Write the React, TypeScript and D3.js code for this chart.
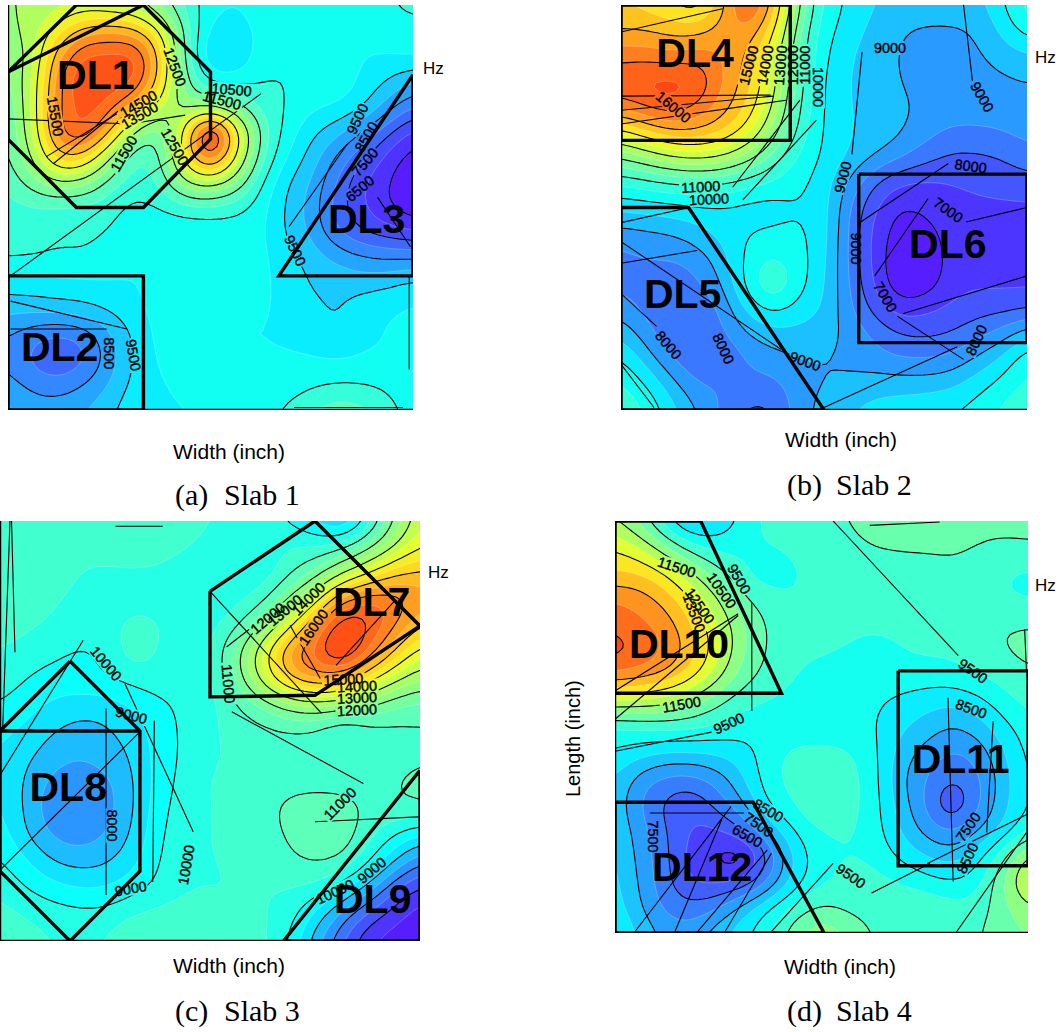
import * as d3 from "d3";

// Frequency fields, in hundreds of Hz, 17 x 17 samples per slab
const slab1Grid = [
  [125,125,128,130,128,126,118,108,102,100,103,105,101,100,101,105,106],
  [123,128,138,148,150,148,136,113,98,96,102,105,103,101,101,103,104],
  [118,128,150,162,162,164,146,112,93,94,103,105,105,103,100,100,101],
  [118,130,155,167,163,164,143,116,102,102,105,105,104,104,99,95,90],
  [115,131,156,163,159,148,131,120,122,116,108,105,101,100,97,88,80],
  [114,130,157,163,148,122,113,138,178,140,113,103,96,92,85,76,68],
  [113,126,146,145,125,108,112,140,162,136,111,100,93,84,76,68,62],
  [111,118,125,122,112,107,110,125,129,121,105,95,90,79,70,65,60],
  [108,109,108,108,107,103,105,108,108,106,102,94,88,77,70,65,61],
  [107,108,106,106,105,101,100,100,101,102,102,94,89,80,75,72,70],
  [106,105,104,105,102,100,100,100,100,100,102,97,93,89,86,85,85],
  [97,98,99,99,100,100,101,100,100,100,101,99,94,94,93,94,97],
  [92,92,93,94,96,99,102,103,100,100,100,100,96,94,98,100,101],
  [85,81,79,81,89,96,102,104,100,100,100,100,99,94,100,100,101],
  [84,78,74,78,87,96,101,102,100,100,100,100,100,100,100,100,101],
  [87,83,82,85,90,97,100,100,100,100,101,102,104,105,105,104,101],
  [92,88,88,90,94,99,100,100,100,100,103,106,110,114,112,107,103],
];

const slab2Grid = [
  [145,143,140,135,148,165,150,120,103,99,95,93,93,93,93,99,108],
  [150,150,148,148,153,155,143,115,101,98,93,90,89,89,90,96,103],
  [158,158,156,158,155,150,135,113,100,96,91,90,88,88,89,92,94],
  [165,167,168,166,155,148,133,112,99,95,92,90,88,88,88,89,90],
  [158,162,165,160,153,145,130,110,99,95,93,91,89,88,88,88,88],
  [138,145,150,150,146,138,123,108,99,95,94,91,87,84,84,85,87],
  [120,125,130,132,130,123,113,104,99,95,90,86,82,79,79,80,83],
  [106,108,110,111,110,107,104,101,98,89,80,75,74,75,76,77,78],
  [96,97,98,99,99,97,97,100,98,85,75,69,71,73,74,74,74],
  [88,89,90,93,97,100,101,101,98,84,73,67,68,72,72,72,72],
  [83,85,85,87,93,102,106,102,97,84,73,65,66,72,73,72,72],
  [83,83,81,84,90,103,112,102,96,85,74,65,66,73,74,74,74],
  [88,83,81,80,86,97,102,98,95,86,78,72,74,76,78,78,79],
  [94,87,80,79,84,90,93,93,92,89,84,80,79,80,83,87,94],
  [101,93,85,80,80,85,88,90,90,89,87,85,85,86,91,96,105],
  [106,100,92,85,85,84,83,88,90,91,93,93,93,94,98,102,106],
  [110,105,97,90,84,78,79,88,92,95,97,98,99,100,102,106,110],
];

const slab3Grid = [
  [110,109,107,107,107,110,110,107,105,104,103,99,94,86,100,120,135],
  [110,110,108,106,107,108,107,105,104,102,101,106,105,108,117,130,140],
  [109,109,108,105,104,104,104,103,103,102,101,108,115,128,140,150,152],
  [108,108,106,103,102,103,103,102,102,103,107,120,135,162,167,165,158],
  [107,106,104,102,103,107,106,102,103,108,120,137,160,178,172,162,150],
  [105,103,101,99,100,109,105,101,104,118,137,160,168,182,166,150,136],
  [103,100,98,99,100,102,103,101,103,116,134,152,160,156,144,132,125],
  [100,97,94,92,92,95,99,101,103,109,115,122,125,123,120,115,113],
  [96,94,90,88,89,92,97,101,104,107,108,109,109,102,107,108,109],
  [95,91,87,85,87,90,97,101,104,106,107,107,105,105,107,108,109],
  [95,89,83,81,83,89,97,102,105,108,108,108,108,108,108,110,112],
  [96,89,81,78,82,89,98,103,105,106,108,112,114,113,109,109,110],
  [98,90,84,82,85,90,99,104,105,106,107,111,113,114,107,100,94],
  [101,96,90,88,89,93,100,104,105,105,106,109,111,110,102,90,80],
  [104,100,97,95,95,98,101,105,105,105,105,105,104,98,88,75,68],
  [107,105,103,102,102,105,107,107,105,105,106,103,94,83,73,67,62],
  [108,107,105,104,105,110,110,107,105,105,107,100,87,75,65,62,60],
];

const slab4Grid = [
  [115,108,95,86,90,97,102,103,103,105,108,111,110,107,107,108,108],
  [125,120,110,101,98,99,100,101,102,103,105,105,105,105,105,103,104],
  [130,130,125,115,106,100,96,100,101,102,102,103,104,105,104,100,99],
  [140,138,133,125,115,105,102,100,101,102,102,102,102,102,103,100,99],
  [144,141,138,130,120,110,104,101,101,101,101,101,101,102,104,105,105],
  [148,145,140,133,122,110,104,101,101,100,98,100,101,101,103,105,107],
  [140,138,135,128,117,107,103,100,98,97,97,98,98,98,100,102,104],
  [120,119,117,112,106,101,100,98,97,96,96,94,92,91,93,98,102],
  [98,100,101,101,99,97,96,96,96,96,96,91,88,84,87,93,98],
  [95,92,90,90,91,93,98,102,102,101,97,88,83,79,81,89,97],
  [90,82,78,78,82,90,99,102,106,102,98,86,80,75,78,87,96],
  [89,79,73,70,77,85,97,100,107,102,98,88,80,67,78,88,96],
  [90,82,75,69,69,75,88,96,100,101,98,90,83,79,84,90,99],
  [91,83,76,67,63,59,75,92,98,100,99,94,90,87,92,103,118],
  [92,84,76,69,68,70,80,93,99,102,102,100,97,95,97,110,124],
  [93,85,78,76,80,88,96,102,106,103,103,104,105,102,102,108,114],
  [96,89,83,83,88,94,100,109,115,110,104,104,105,104,104,108,110],
];

// Band colours, from the low end of the scale to the high end
const paletteStops = [0, 0.1, 0.2, 0.28, 0.34, 0.4, 0.46, 0.52, 0.58, 0.66, 0.72, 0.78, 0.84, 0.9, 1];
const paletteColors = ["#5b12ff","#4a3cff","#3a78ff","#22a8ff","#16d4ff","#00ffff","#2dffdf","#5bffbd","#80ff90","#b4ff5a","#eaff2a","#ffe020","#ffb420","#ff8420","#ff4414"];

type Label = [string, number, number, number];
type Seg = number[][];

const slab1Labels: Label[] = [
  ["12500",6.6,2.45,70],["10500",8.84,3.34,5],["11500",8.45,3.76,15],["15500",1.87,4.4,80],
  ["14500",5.16,3.9,-30],["13500",5.2,4.36,-30],["12500",6.6,5.6,60],["11500",4.57,5.87,-60],
  ["9500",13.8,4.5,-65],["8500",14.15,5.2,-60],["7500",14.1,6.2,-50],["6500",13.9,7.25,-40],
  ["9500",11.35,9.7,65],["8500",3.98,13.76,90],["9500",4.96,13.83,80],
];
const slab2Labels: Label[] = [
  ["9000",10.6,1.7,0],["9000",14.24,3.63,60],["10000",7.76,3.24,90],["15000",5.03,2.38,-75],
  ["14000",5.68,2.38,-80],["13000",6.28,2.38,-85],["12000",6.78,2.38,-90],["11000",7.26,2.38,-90],
  ["16000",2.07,4.03,40],["11000",3.14,7.18,-3],["10000",3.47,7.67,-3],["9000",8.74,6.8,-75],
  ["8000",13.78,6.36,8],["7000",12.9,8.1,35],["9000",9.28,9.62,90],["7000",10.42,11.53,60],
  ["8000",14,13.24,-65],["8000",1.87,13.43,50],["8000",4.04,13.57,65],["9000",7.26,14.07,20],
];
const slab3Labels: Label[] = [
  ["10000",4.04,5.43,50],["9000",5,7.4,15],["9000",4.98,14,-10],["8000",4.28,11.6,90],
  ["10000",7.09,13.1,-80],["11000",8.7,6.2,85],["12000",10.2,3.7,-40],["13000",10.86,3.4,-40],
  ["14000",11.75,2.96,-45],["16000",11.94,4.04,-55],["15000",13.08,6.03,-3],["14000",13.6,6.3,-3],
  ["13000",13.6,6.73,-3],["12000",13.6,7.2,-3],["11000",12.95,10.76,-45],["10000",12.76,14.12,-25],
  ["9000",14.16,13.3,-40],
];
const slab4Labels: Label[] = [
  ["11500",2.39,1.79,18],["10500",4.13,2.7,55],["9500",4.81,2.25,60],["12500",3.29,3.29,55],
  ["13500",3.07,3.57,70],["11500",2.58,7.12,-10],["9500",4.41,7.86,-25],["7500",1.48,12.25,90],
  ["8500",5.94,11.23,30],["7500",5.57,11.79,35],["6500",5.13,12.22,30],["9500",9.14,13.78,35],
  ["9500",13.87,5.82,35],["8500",13.8,7.29,20],["7500",13.68,11.88,-55],["8500",13.65,13.09,-65],
];

// Straight runs of the contour plot, in grid units
const slab1Strays: Seg[] = [
  [[0,4.5],[4.8,4.7],[7,4.35]],[[1.8,6.26],[4.4,4.15]],[[1.5,6],[4.3,4.3]],[[0.1,10.7],[10,3.5]],
  [[11.1,8.76],[13.4,5.5]],[[14.6,7.6],[15.9,9.55]],[[0.1,11.7],[4.7,12.8]],[[0.1,12.8],[3.9,12.8]],
  [[11.3,15.9],[15.6,15.9]],[[15.85,10.7],[15.85,14.4]],
];
const slab2Strays: Seg[] = [
  [[9.5,1.86],[9.1,5.9]],[[0,1.07],[4,0.15]],[[0,3.6],[5.9,3.56]],[[0,4.16],[6,3.6]],[[0,4.7],[6.5,3.76]],
  [[4.4,7.2],[7.05,3.76]],[[4.8,7.7],[7.7,4.55]],[[0,9.35],[6.3,13.6]],[[0,10.2],[3,9.7]],[[0,8.6],[2.7,8]],
  [[9.4,8.6],[12.9,6.26]],[[10,10.7],[12.1,7.65]],[[8,15.9],[13.25,13.5]],[[11.1,12.2],[16,10.7]],
  [[10.9,12.3],[13.5,14]],[[13.6,8.57],[16,8]],[[13.5,0],[13.85,3]],[[0,11.4],[1.4,12.7]],[[0,14.2],[1.3,15.9]],
];
const slab3Strays: Seg[] = [
  [[8,2.68],[12.25,7.33]],[[4.76,6.2],[7.36,11.84]],[[4.04,7.14],[4.04,14.25]],[[5.88,7.6],[5.82,13.75]],
  [[0,13.3],[5.33,8.03]],[[8.83,7.27],[13.84,10]],[[12,11.46],[15.94,11.27]],[[0.38,0],[0.1,8]],
  [[0.44,0],[0.57,5]],[[0,9.68],[3.17,4.54]],[[8.63,4.8],[11,2.95]],[[11.05,3.97],[12.2,6]],
  [[12.8,5.5],[15,3.08]],[[4.4,0.2],[6.2,0.2]],
];
const slab4Strays: Seg[] = [
  [[8.45,0],[13.3,5.23]],[[12.9,6.86],[13.1,14]],[[14.65,7.77],[14.4,12.1]],[[12.1,13.3],[15.95,11.4]],
  [[9.94,14.45],[12.2,13.3]],[[5.3,3.16],[5.3,7.38]],[[0,6.6],[4.77,3.6]],[[0,7.7],[4.77,3.67]],
  [[0,8.94],[3.74,8.2]],[[1.35,11.34],[5,11.34]],[[0.77,15.95],[4.5,11.08]],[[2.32,15.95],[4.13,11.6]],
  [[3.2,15.95],[5.9,12.77]],[[4.26,15.95],[6.06,12.9]],[[6.06,15.95],[8.45,13.3]],[[15.87,4.2],[15.94,5.8]],
  [[9.87,0.17],[12.58,0.04]],[[13.2,16],[15.94,12.1]],
];

// Delamination outlines, in grid units
const slab1Regions: Seg[] = [
  [[2.7,0],[5.35,0],[8,2.65],[8,5.3],[5.35,8],[2.7,8],[0,5.3],[0,2.65],[2.7,0]],
  [[0,2.65],[5.35,0]],
  [[0,10.7],[5.35,10.7],[5.35,16],[0,16],[0,10.7]],
  [[16,2.75],[16,10.7],[10.7,10.7],[16,2.75]],
];
const slab2Regions: Seg[] = [
  [[0,0],[6.67,0],[6.67,5.35],[0,5.35],[0,0]],
  [[0,8],[2.66,8],[8,16],[0,16],[0,8]],
  [[9.37,6.68],[16,6.68],[16,13.34],[9.37,13.34],[9.37,6.68]],
];
const slab3Regions: Seg[] = [
  [[8,2.68],[12,0],[16,4],[12,6.64],[8,6.7],[8,2.68]],
  [[2.67,5.34],[5.33,8],[5.33,13.34],[2.67,16],[0,13.34],[0,8],[2.67,5.34]],
  [[0,8],[5.33,8]],
  [[16,9.5],[10.8,16],[16,16],[16,9.5]],
];
const slab4Regions: Seg[] = [
  [[0,0],[3.32,0],[6.45,6.69],[0,6.69],[0,0]],
  [[10.97,5.82],[16,5.82],[16,13.39],[10.97,13.39],[10.97,5.82]],
  [[0,10.92],[5.35,10.92],[8.1,16],[0,16],[0,10.92]],
];

type Panel = {
  id: string;
  grid: number[][];
  box: [number, number, number, number];
  colorDomain: number[];
  lineStart: number;
  labels: Label[];
  strays: Seg[];
  regions: Seg[];
  names: [string, number, number][];
  hz: [number, number];
  width: [number, number];
  caption: string;
  captionPos: [number, number];
};

const panels: Panel[] = [
  { id: "a", grid: slab1Grid, box: [8, 5, 413, 410], colorDomain: [6000, 10000, 16500], lineStart: 6500,
    labels: slab1Labels, strays: slab1Strays, regions: slab1Regions,
    names: [["DL1",3.47,2.74],["DL2",2.04,13.5],["DL3",14.17,8.44]],
    hz: [423, 74], width: [229, 459], caption: "(a)", captionPos: [175, 505] },
  { id: "b", grid: slab2Grid, box: [621, 5, 1027, 410], colorDomain: [6500, 10000, 16800], lineStart: 7000,
    labels: slab2Labels, strays: slab2Strays, regions: slab2Regions,
    names: [["DL4",2.92,1.86],["DL5",2.43,11.4],["DL6",12.88,9.42]],
    hz: [1035, 63], width: [841, 447], caption: "(b)", captionPos: [787, 495] },
  { id: "c", grid: slab3Grid, box: [0, 521, 420, 941], colorDomain: [6000, 9600, 17500], lineStart: 7000,
    labels: slab3Labels, strays: slab3Strays, regions: slab3Regions,
    names: [["DL7",14.16,3.06],["DL8",2.6,10.09],["DL9",14.2,14.38]],
    hz: [428, 578], width: [229, 973], caption: "(c)", captionPos: [175, 1021] },
  { id: "d", grid: slab4Grid, box: [615, 521, 1028, 933], colorDomain: [5800, 9500, 14800], lineStart: 6500,
    labels: slab4Labels, strays: slab4Strays, regions: slab4Regions,
    names: [["DL10",2.48,4.74],["DL11",13.39,9.23],["DL12",3.38,13.42]],
    hz: [1035, 591], width: [840, 974], caption: "(d)", captionPos: [787, 1021] },
];

const slabNames = ["Slab 1", "Slab 2", "Slab 3", "Slab 4"];
const bandLevels = d3.range(5500, 18000, 500);
const PAD = 2;
const SCALE = 6; // contour raster cells per grid sample

const palette = d3.scaleLinear<string>().domain(paletteStops).range(paletteColors).clamp(true);

function ContourPanel({ panel, slab }: { panel: Panel; slab: string }) {
  const [x0, y0, x1, y1] = panel.box;
  const x = d3.scaleLinear().domain([0, 16]).range([x0, x1]);
  const y = d3.scaleLinear().domain([0, 16]).range([y0, y1]);
  const t = d3.scaleLinear().domain(panel.colorDomain).range([0, 0.4, 1]).clamp(true);

  // blocky raster of the samples, edges repeated, softened with d3.blur2 so the rings come out round
  const n = (panel.grid.length + PAD * 2) * SCALE;
  const values = new Float64Array(n * n);
  for (let j = 0; j < n; j++) {
    for (let i = 0; i < n; i++) {
      const gj = Math.floor(j / SCALE) - PAD;
      const gi = Math.floor(i / SCALE) - PAD;
      values[j * n + i] = panel.grid[Math.min(16, Math.max(0, gj))][Math.min(16, Math.max(0, gi))] * 100;
    }
  }
  d3.blur2({ data: values, width: n }, 2.5);

  const contour = d3.contours().size([n, n]);
  const ring = d3.line<number[]>()
    .x(d => x(d[0] / SCALE - 0.5 - PAD))
    .y(d => y(d[1] / SCALE - 0.5 - PAD));
  const toPath = (level: number) =>
    contour.contour(values as any, level).coordinates
      .flatMap(poly => poly.map(r => (ring(r) ?? "") + "Z"))
      .join("");

  const segLine = d3.line<number[]>().x(d => x(d[0])).y(d => y(d[1]));
  const lineLevels = d3.range(panel.lineStart, 18000, 1000);

  return (
    <g fontFamily="'Liberation Sans', Arial, sans-serif">
      <defs>
        <clipPath id={`clip-${panel.id}`}>
          <rect x={x0} y={y0} width={x1 - x0} height={y1 - y0} />
        </clipPath>
        <mask id={`gap-${panel.id}`} maskUnits="userSpaceOnUse" x={0} y={0} width={1059} height={1032}>
          <rect x={0} y={0} width={1059} height={1032} fill="white" />
          {panel.labels.map((l, i) => (
            <rect key={i} x={-l[0].length * 4.3} y={-7} width={l[0].length * 8.6} height={14} fill="black"
              transform={`translate(${x(l[1])},${y(l[2])}) rotate(${l[3]})`} />
          ))}
        </mask>
      </defs>
      <g clipPath={`url(#clip-${panel.id})`}>
        <rect x={x0} y={y0} width={x1 - x0} height={y1 - y0} fill={palette(0)} />
        {bandLevels.map(level => (
          <path key={level} d={toPath(level)} fill={palette(t(level + 250))} fillRule="evenodd"
            stroke="#fff" strokeOpacity={0.4} strokeWidth={0.6} />
        ))}
        <g mask={`url(#gap-${panel.id})`} fill="none" stroke="#000" strokeWidth={1.1}>
          {lineLevels.map(level => <path key={level} d={toPath(level)} />)}
          {panel.strays.map((s, i) => <path key={i} d={segLine(s) ?? ""} />)}
        </g>
        {panel.labels.map((l, i) => (
          <text key={i} fontSize={14.4} textAnchor="middle" dy="0.36em" fill="#000" stroke="#000" strokeWidth={0.4}
            transform={`translate(${x(l[1])},${y(l[2])}) rotate(${l[3]})`}>{l[0]}</text>
        ))}
        <path d={`M${x0},${y0}V${y1}H${x1}`} fill="none" stroke="#000" strokeWidth={2.5} />
        {panel.regions.map((s, i) => (
          <path key={i} d={segLine(s) ?? ""} fill="none" stroke="#000" strokeWidth={3.4} strokeLinejoin="miter" />
        ))}
      </g>
      {panel.names.map(nm => (
        <text key={nm[0]} x={x(nm[1])} y={y(nm[2])} dy="0.36em" textAnchor="middle" fontSize={41} fontWeight="bold"
          fill="#000">{nm[0]}</text>
      ))}
      <text x={panel.hz[0]} y={panel.hz[1]} fontSize={17}>Hz</text>
      <text x={panel.width[0]} y={panel.width[1]} fontSize={21} textAnchor="middle">Width (inch)</text>
      <text x={panel.captionPos[0]} y={panel.captionPos[1]} fontSize={30} fontFamily="'Liberation Serif', serif">{panel.caption}</text>
      <text x={panel.captionPos[0] + 49} y={panel.captionPos[1]} fontSize={30} fontFamily="'Liberation Serif', serif">{slab}</text>
    </g>
  );
}

export default function App() {
  return (
    <svg width={1059} height={1032} viewBox="0 0 1059 1032"
      style={{ position: "absolute", left: 0, top: 0, background: "#fff" }}>
      {panels.map((p, i) => <ContourPanel key={p.id} panel={p} slab={slabNames[i]} />)}
      <text transform="translate(580,797) rotate(-90)" fontSize={20} fontFamily="'Liberation Sans', Arial, sans-serif">Length (inch)</text>
    </svg>
  );
}
